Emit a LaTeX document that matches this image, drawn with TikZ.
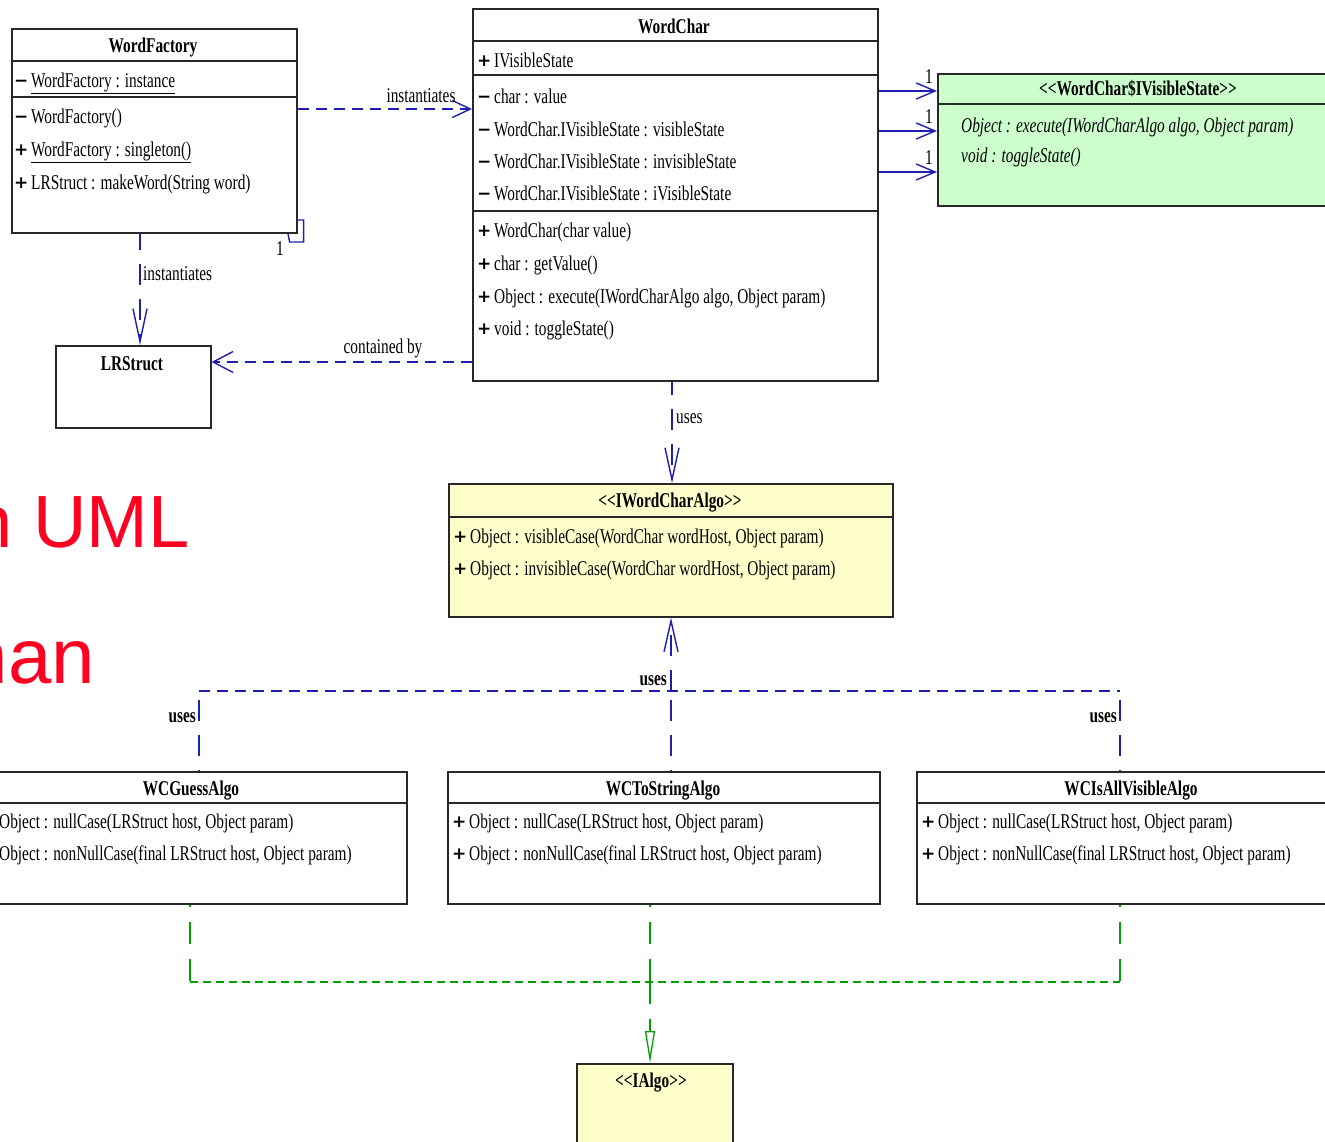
\documentclass[tikz,border=0pt]{standalone}
\usepackage{fontspec}
\setmainfont{Liberation Serif}[FakeStretch=0.73]
\newfontfamily\redsans{Liberation Sans}
\newfontfamily\mkfont{DejaVu Sans}
\usetikzlibrary{arrows.meta}
\definecolor{umlblue}{RGB}{30,30,175}
\definecolor{umlgreen}{RGB}{0,160,0}
\definecolor{greenfill}{RGB}{204,255,204}
\definecolor{yellowfill}{RGB}{255,255,204}
\definecolor{redtxt}{RGB}{255,0,34}
\definecolor{boxline}{RGB}{40,40,40}
\newcommand\umlsz{\fontsize{21}{24}\selectfont}
\newcommand\pl{\makebox[17pt][l]{\raisebox{1pt}{\mkfont\bfseries\fontsize{17}{17}\selectfont +}}}
\newcommand\mi{\makebox[17pt][l]{\raisebox{1pt}{\mkfont\bfseries\fontsize{17}{17}\selectfont −}}}
\tikzset{
  classbox/.style={draw=boxline, line width=1.6pt, inner sep=0pt, anchor=north west, fill=white},
  txt/.style={inner sep=0pt, anchor=base west, font=\umlsz},
  ttl/.style={inner sep=0pt, anchor=base, font=\umlsz\bfseries},
  lbl/.style={inner sep=0pt, font=\umlsz},
  sepline/.style={draw=boxline, line width=1.6pt},
  bluesolid/.style={draw=umlblue, line width=1.4pt},
  bluedash/.style={draw=umlblue, line width=1.4pt, dash pattern=on 11pt off 7pt},
  bluevdash/.style={draw=umlblue, line width=1.4pt, dash pattern=on 21pt off 14pt, dash phase=5pt},
  greenvdash/.style={draw=umlgreen, line width=1.3pt, dash pattern=on 22pt off 15pt, dash phase=20pt},
  greenhdash/.style={draw=umlgreen, line width=1.6pt, dash pattern=on 8pt off 5pt},
  vtip/.style={-{Straight Barb[length=#1,width=14pt]}},
}
\begin{document}
\begin{tikzpicture}[x=1pt,y=-1pt]
\useasboundingbox (0,0) rectangle (1325,1141);
\clip (0,0) rectangle (1325,1141);

% ---------- red background text ----------
\node[anchor=base east, inner sep=0pt, font=\redsans\fontsize{74}{80}\selectfont, text=redtxt] (r1) at (190,547) {n UML};
\node[anchor=base east, inner sep=0pt, font=\redsans\fontsize{78}{84}\selectfont, text=redtxt] (r2) at (95,683) {nan};

% ---------- WordFactory ----------
\node[classbox, minimum width=285pt, minimum height=204pt] (wf) at (11,28) {};
\draw[sepline] (wf.west |- 0,61) -- (wf.east |- 0,61);
\draw[sepline] (wf.west |- 0,97) -- (wf.east |- 0,97);
\node[ttl] (wft) at (153,52) {WordFactory};
\node[txt] (wf1) at (14,87) {\mi\underline{WordFactory : instance}};
\node[txt] (wf2) at (14,123) {\mi WordFactory()};
\node[txt] (wf3) at (14,156) {\pl\underline{WordFactory : singleton()}};
\node[txt] (wf4) at (14,189) {\pl LRStruct : makeWord(String word)};
\draw[bluesolid] (wf.east |- 0,220) -- ++(6,0) -- ++(0,22) -- ++(-14,0) -- (wf.south -| 288,0);
\node[txt] (wfone) at (276,255) {1};

% ---------- WordChar ----------
\node[classbox, minimum width=405pt, minimum height=372pt] (wc) at (472,8) {};
\draw[sepline] (wc.west |- 0,41) -- (wc.east |- 0,41);
\draw[sepline] (wc.west |- 0,75) -- (wc.east |- 0,75);
\draw[sepline] (wc.west |- 0,211) -- (wc.east |- 0,211);
\node[ttl] (wct) at (674,33) {WordChar};
\node[txt] (wc1) at (477,67) {\pl IVisibleState};
\node[txt] (wc2) at (477,103) {\mi char : value};
\node[txt] (wc3) at (477,136) {\mi WordChar.IVisibleState : visibleState};
\node[txt] (wc4) at (477,168) {\mi WordChar.IVisibleState : invisibleState};
\node[txt] (wc5) at (477,200) {\mi WordChar.IVisibleState : iVisibleState};
\node[txt] (wc6) at (477,237) {\pl WordChar(char value)};
\node[txt] (wc7) at (477,270) {\pl char : getValue()};
\node[txt] (wc8) at (477,303) {\pl Object : execute(IWordCharAlgo algo, Object param)};
\node[txt] (wc9) at (477,335) {\pl void : toggleState()};

% ---------- WordChar$IVisibleState ----------
\node[classbox, fill=greenfill, minimum width=402pt, minimum height=132pt] (gs) at (937,73) {};
\draw[sepline] (gs.west |- 0,104) -- (gs.east |- 0,104);
\node[ttl] (gst) at (1138,95) {<{}<WordChar\$IVisibleState>{}>};
\node[txt, font=\umlsz\itshape] (gs1) at (961,132) {Object : execute(IWordCharAlgo algo, Object param)};
\node[txt, font=\umlsz\itshape] (gs2) at (961,162) {void : toggleState()};

\foreach \yy/\nm in {91/a,131/b,172/c}{
  \draw[bluesolid, -{Straight Barb[length=19pt,width=16pt]}] (wc.east |- 0,\yy) -- (gs.west |- 0,\yy);
  \node[txt] (one\nm) at (925,\yy-8) {1};
}

% ---------- WordFactory -> WordChar ----------
\draw[bluedash, -{Straight Barb[length=18pt,width=17pt]}] (wf.east |- 0,109) -- (wc.west |- 0,109);
\node[lbl, anchor=base] (inst1) at (421,102) {instantiates};

% ---------- LRStruct ----------
\node[classbox, minimum width=155pt, minimum height=82pt] (lr) at (55,345) {};
\node[ttl] (lrt) at (132,370) {LRStruct};
\draw[bluevdash, vtip=33pt] (wf.south -| 140,0) -- (lr.north -| 140,0);
\node[lbl, anchor=base west] (inst2) at (143,280) {instantiates};
\draw[bluedash, -{Straight Barb[length=20pt,width=21pt]}] (wc.west |- 0,362) -- (lr.east |- 0,362);
\node[lbl, anchor=base] (cont) at (383,353) {contained by};

% ---------- IWordCharAlgo ----------
\node[classbox, fill=yellowfill, minimum width=444pt, minimum height=133pt] (iw) at (448,483) {};
\draw[sepline] (iw.west |- 0,517) -- (iw.east |- 0,517);
\node[ttl] (iwt) at (670,507) {<{}<IWordCharAlgo>{}>};
\node[txt] (iw1) at (453,543) {\pl Object : visibleCase(WordChar wordHost, Object param)};
\node[txt] (iw2) at (453,575) {\pl Object : invisibleCase(WordChar wordHost, Object param)};
\draw[bluevdash, dash phase=8pt, vtip=32pt] (wc.south -| 672,0) -- (iw.north -| 672,0);
\node[lbl, anchor=base west] (uses0) at (676,423) {uses};

% ---------- algorithm classes ----------
\node[classbox, minimum width=429pt, minimum height=132pt] (wg) at (-23,771) {};
\node[classbox, minimum width=432pt, minimum height=132pt] (ws) at (447,771) {};
\node[classbox, minimum width=430pt, minimum height=132pt] (wv) at (916,771) {};
\foreach \b in {wg,ws,wv}{ \draw[sepline] (\b.west |- 0,803) -- (\b.east |- 0,803); }
\node[ttl] (wgt) at (191,795) {WCGuessAlgo};
\node[ttl] (wst) at (663,795) {WCToStringAlgo};
\node[ttl] (wvt) at (1131,795) {WCIsAllVisibleAlgo};
\node[txt] (wg1) at (-18,828) {\pl Object : nullCase(LRStruct host, Object param)};
\node[txt] (wg2) at (-18,860) {\pl Object : nonNullCase(final LRStruct host, Object param)};
\node[txt] (ws1) at (452,828) {\pl Object : nullCase(LRStruct host, Object param)};
\node[txt] (ws2) at (452,860) {\pl Object : nonNullCase(final LRStruct host, Object param)};
\node[txt] (wv1) at (921,828) {\pl Object : nullCase(LRStruct host, Object param)};
\node[txt] (wv2) at (921,860) {\pl Object : nonNullCase(final LRStruct host, Object param)};

% ---------- uses connectors ----------
\coordinate (hl) at (199,691);
\coordinate (hm) at (671,691);
\coordinate (hr) at (1120,691);
\draw[bluedash] (hl) -- (hr);
\draw[bluevdash, dash phase=0pt, vtip=31pt] (hm) -- (iw.south -| hm);
\draw[bluevdash, dash phase=26pt] (hl) -- (wg.north -| hl);
\draw[bluevdash, dash phase=26pt] (hm) -- (ws.north -| hm);
\draw[bluevdash, dash phase=26pt] (hr) -- (wv.north -| hr);
\node[lbl, anchor=base east, font=\umlsz\bfseries] (uses1) at (667,685) {uses};
\node[lbl, anchor=base east, font=\umlsz\bfseries] (uses2) at (196,722) {uses};
\node[lbl, anchor=base east, font=\umlsz\bfseries] (uses3) at (1117,722) {uses};

% ---------- IAlgo ----------
\node[classbox, fill=yellowfill, minimum width=156pt, minimum height=100pt] (ia) at (576,1063) {};
\node[ttl] (iat) at (651,1087) {<{}<IAlgo>{}>};
\coordinate (gl) at (190,982);
\coordinate (gm) at (650,982);
\coordinate (gr) at (1120,982);
\draw[greenvdash] (wg.south -| gl) -- (gl);
\draw[greenvdash] (ws.south -| gm) -- (gm);
\draw[greenvdash] (wv.south -| gr) -- (gr);
\draw[greenhdash] (gl) -- (gr);
\draw[greenvdash, dash phase=0pt, -{Triangle[open,length=32pt,width=10pt]}] (gm) -- (ia.north -| gm);
\end{tikzpicture}
\end{document}
